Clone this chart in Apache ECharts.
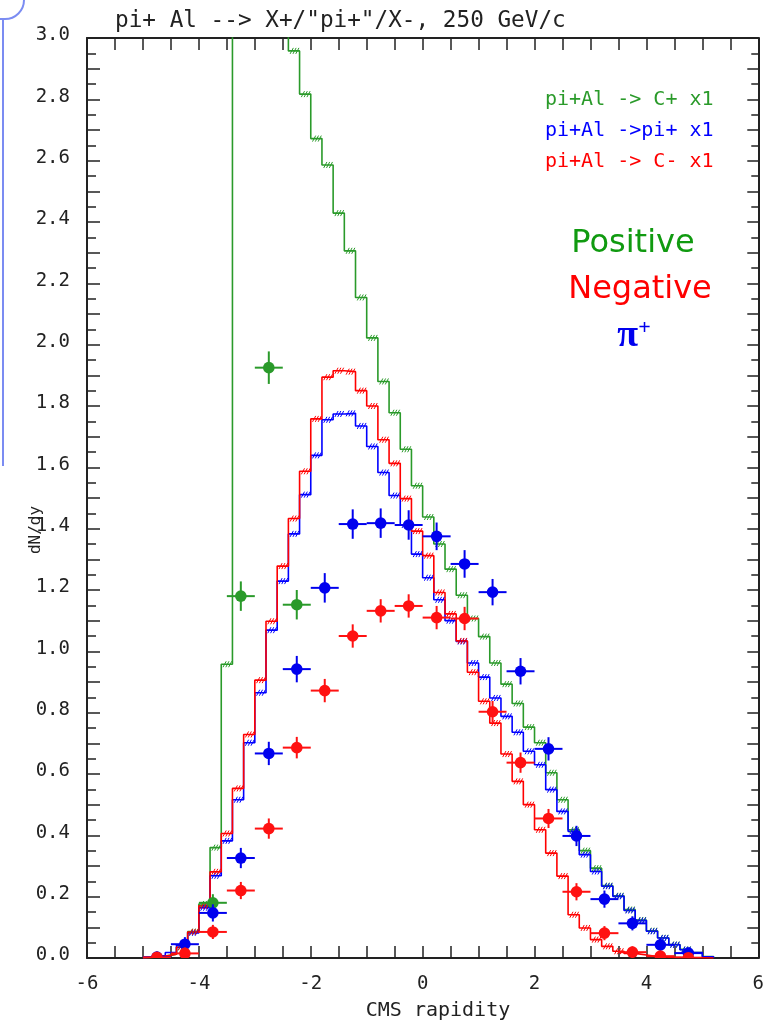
<!DOCTYPE html>
<html><head><meta charset="utf-8">
<script src="https://cdn.jsdelivr.net/npm/echarts@6/dist/echarts.min.js"></script>
<style>html,body{margin:0;padding:0;background:#fff}#c{width:767px;height:1024px}</style>
</head><body><div id="c"></div>
<script>
// ---- data ----
const binEdges = [-5.0,-4.8,-4.6,-4.4,-4.2,-4.0,-3.8,-3.6,-3.4,-3.2,-3.0,-2.8,-2.6,-2.4,-2.2,-2.0,-1.8,-1.6,-1.4,-1.2,-1.0,-0.8,-0.6,-0.4,-0.2,0.0,0.2,0.4,0.6,0.8,1.0,1.2,1.4,1.6,1.8,2.0,2.2,2.4,2.6,2.8,3.0,3.2,3.4,3.6,3.8,4.0,4.2,4.4,4.6,4.8,5.0,5.2];
const greenHist = [0.003,0.006,0.012,0.035,0.086,0.176,0.360,0.958,4.8,4.4,3.9,3.5,3.15,2.958,2.817,2.672,2.586,2.429,2.306,2.154,2.022,1.880,1.778,1.659,1.540,1.438,1.350,1.268,1.183,1.107,1.048,0.962,0.893,0.830,0.753,0.702,0.604,0.516,0.418,0.350,0.293,0.236,0.203,0.158,0.124,0.089,0.066,0.044,0.028,0.018,0.005];
const blueHist = [0.004,0.008,0.018,0.042,0.082,0.164,0.268,0.382,0.516,0.702,0.865,1.069,1.229,1.383,1.511,1.639,1.755,1.774,1.776,1.735,1.668,1.583,1.508,1.412,1.317,1.240,1.168,1.100,1.032,0.962,0.916,0.848,0.788,0.736,0.674,0.630,0.549,0.478,0.413,0.337,0.282,0.234,0.201,0.155,0.122,0.087,0.065,0.043,0.027,0.018,0.004];
const redHist = [0.003,0.006,0.012,0.035,0.085,0.170,0.281,0.406,0.553,0.729,0.906,1.098,1.278,1.433,1.587,1.758,1.894,1.915,1.912,1.850,1.800,1.690,1.613,1.498,1.392,1.312,1.192,1.122,1.034,0.932,0.837,0.766,0.665,0.576,0.500,0.418,0.342,0.267,0.141,0.098,0.060,0.038,0.022,0.015,0.010,0.005,0.003,0.002,0.001,0.001,0.000];

const pointX = [-4.75,-4.25,-3.75,-3.25,-2.75,-2.25,-1.75,-1.25,-0.75,-0.25,0.25,0.75,1.25,1.75,2.25,2.75,3.25,3.75,4.25,4.75];
const bluePts = [0.003,0.045,0.147,0.326,0.667,0.942,1.207,1.415,1.418,1.412,1.375,1.285,1.193,0.935,0.682,0.398,0.192,0.113,0.043,0.016];
const blueErr = [0.005,0.010,0.015,0.020,0.025,0.030,0.035,0.035,0.035,0.035,0.032,0.032,0.030,0.030,0.025,0.020,0.015,0.010,0.008,0.005];
const redPts = [0.002,0.015,0.085,0.220,0.422,0.686,0.872,1.050,1.132,1.148,1.110,1.107,0.803,0.637,0.455,0.216,0.081,0.019,0.006,0.001];
const redErr = [0.003,0.006,0.010,0.015,0.020,0.022,0.025,0.025,0.025,0.025,0.025,0.025,0.022,0.020,0.018,0.015,0.010,0.006,0.004,0.002];
const greenPtX = [-3.75,-3.25,-2.75,-2.25];
const greenPts = [0.180,1.180,1.925,1.152];
const greenErr = [0.015,0.035,0.040,0.035];

const xTickLabels = ['-6','-4','-2','0','2','4','6'];
const yTickLabels = ['0.0','0.2','0.4','0.6','0.8','1.0','1.2','1.4','1.6','1.8','2.0','2.2','2.4','2.6','2.8','3.0'];
const titleText = 'pi+ Al --> X+/"pi+"/X-, 250 GeV/c';
const legendLines = ['pi+Al -> C+ x1','pi+Al ->pi+ x1','pi+Al -> C- x1'];
const xAxisName = 'CMS rapidity';
const yAxisName = 'dN/dy';

// ---- styles ----
const GREEN = '#2a9a2a', BLUE = '#0000ff', RED = '#ff0000', AX = '#222222';
const MONO = '"DejaVu Sans Mono", monospace';

function histData(vals){
  const d = [[binEdges[0], 0]];
  for (let i = 0; i < vals.length; i++) d.push([binEdges[i], vals[i]]);
  d.push([binEdges[vals.length], 0]);
  return d;
}
function hatchData(vals){ return vals.map((v,i)=>[binEdges[i], binEdges[i+1], v]); }
function ptsData(xs, ys, es){ return xs.map((x,i)=>[x, ys[i], es[i]]); }
function pointRenderer(color){
  return function(params, api){
    const x = api.value(0), y = api.value(1), e = api.value(2);
    const c = api.coord([x, y]);
    const l = api.coord([x-0.25, y]), r = api.coord([x+0.25, y]);
    const t = api.coord([x, y+e]), b = api.coord([x, y-e]);
    return {type:'group', children:[
      {type:'line', shape:{x1:l[0],y1:l[1],x2:r[0],y2:r[1]}, style:{stroke:color, lineWidth:2}},
      {type:'line', shape:{x1:t[0],y1:t[1]-4,x2:b[0],y2:b[1]+4}, style:{stroke:color, lineWidth:2}},
      {type:'circle', shape:{cx:c[0],cy:c[1],r:5.8}, style:{fill:color}}
    ]};
  };
}
function hatchRenderer(color){
  return function(params, api){
    const v = api.value(2);
    if (v <= 0.02 || v > 3) return null;
    const a = api.coord([api.value(0), v]), b = api.coord([api.value(1), v]);
    const w = b[0] - a[0];
    const kids = [];
    for (const f of [0.3, 0.55, 0.8]) {
      const x = a[0] + w*f;
      kids.push({type:'line', shape:{x1:x-1.6, y1:a[1]+3, x2:x+1.6, y2:a[1]-3}, style:{stroke:color, lineWidth:1}});
    }
    return {type:'group', children:kids};
  };
}
function histSeries(vals, color){
  return {type:'line', step:'end', data:histData(vals), showSymbol:false, symbol:'none',
    lineStyle:{color:color, width:1.6}, clip:true, animation:false, silent:true, z:2};
}
function hatchSeries(vals, color){
  return {type:'custom', coordinateSystem:'cartesian2d', data:hatchData(vals),
    renderItem:hatchRenderer(color), clip:true, animation:false, silent:true, z:3};
}
function ptsSeries(xs, ys, es, color){
  return {type:'custom', coordinateSystem:'cartesian2d', data:ptsData(xs,ys,es),
    renderItem:pointRenderer(color), clip:true, animation:false, silent:true, z:5};
}

const tickStyle = {color:AX, width:1.5};
const chart = echarts.init(document.getElementById('c'), null, {renderer:'canvas'});
chart.setOption({
  backgroundColor:'#ffffff',
  animation:false,
  grid:{left:87, right:1, top:38, bottom:66},
  xAxis:[
    {type:'value', min:-6, max:6, interval:2, position:'bottom',
     axisLine:{show:true, onZero:false, lineStyle:{color:AX, width:2}},
     axisTick:{show:true, inside:true, length:12, lineStyle:tickStyle},
     minorTick:{show:true, splitNumber:4, length:12, lineStyle:tickStyle},
     axisLabel:{margin:17, color:AX, fontFamily:MONO, fontSize:19,
       formatter:v=>xTickLabels[Math.round((v+6)/2)]},
     splitLine:{show:false}, minorSplitLine:{show:false}},
    {type:'value', min:-6, max:6, interval:2, position:'top',
     axisLine:{show:true, onZero:false, lineStyle:{color:AX, width:2}},
     axisTick:{show:true, inside:true, length:12, lineStyle:tickStyle},
     minorTick:{show:true, splitNumber:4, length:12, lineStyle:tickStyle},
     axisLabel:{show:false}, splitLine:{show:false}}
  ],
  yAxis:[
    {type:'value', min:0, max:3, interval:0.2, position:'left',
     axisLine:{show:true, onZero:false, lineStyle:{color:AX, width:2}},
     axisTick:{show:true, inside:true, length:13, lineStyle:tickStyle},
     minorTick:{show:true, splitNumber:4, length:9, lineStyle:tickStyle},
     axisLabel:{margin:17, color:AX, fontFamily:MONO, fontSize:19, verticalAlign:'bottom', lineHeight:5,
       formatter:v=>yTickLabels[Math.round(v/0.2)]},
     splitLine:{show:false}},
    {type:'value', min:0, max:3, interval:0.1, position:'left',
     axisLine:{show:false, onZero:false}, axisTick:{show:true, inside:true, length:13, lineStyle:tickStyle},
     axisLabel:{show:false}, splitLine:{show:false}},
    {type:'value', min:0, max:3, interval:0.1, position:'right',
     axisLine:{show:true, onZero:false, lineStyle:{color:AX, width:2}},
     axisTick:{show:true, inside:true, length:11, lineStyle:tickStyle},
     minorTick:{show:true, splitNumber:2, length:7, lineStyle:tickStyle},
     axisLabel:{show:false}, splitLine:{show:false}}
  ],
  series:[
    histSeries(greenHist, GREEN),
    histSeries(blueHist, BLUE),
    histSeries(redHist, RED),
    hatchSeries(greenHist, GREEN),
    hatchSeries(blueHist, BLUE),
    hatchSeries(redHist, RED),
    ptsSeries(greenPtX, greenPts, greenErr, '#2a9a2a'),
    ptsSeries(pointX, bluePts, blueErr, '#0000ee'),
    ptsSeries(pointX, redPts, redErr, '#ff1111')
  ],
  graphic:[
    {type:'text', x:115, y:21, style:{text:titleText, font:'22.7px '+MONO, fill:AX, textAlign:'left', textVerticalAlign:'middle'}},
    {type:'text', x:545, y:100, style:{text:legendLines[0], font:'20px '+MONO, fill:GREEN, textAlign:'left', textVerticalAlign:'middle'}},
    {type:'text', x:545, y:131, style:{text:legendLines[1], font:'20px '+MONO, fill:BLUE, textAlign:'left', textVerticalAlign:'middle'}},
    {type:'text', x:545, y:162, style:{text:legendLines[2], font:'20px '+MONO, fill:RED, textAlign:'left', textVerticalAlign:'middle'}},
    {type:'text', x:633, y:244, style:{text:'Positive', font:'32px "DejaVu Sans", sans-serif', fill:'#109a10', textAlign:'center', textVerticalAlign:'middle'}},
    {type:'text', x:640, y:290, style:{text:'Negative', font:'32px "DejaVu Sans", sans-serif', fill:'#ff0000', textAlign:'center', textVerticalAlign:'middle'}},
    {type:'text', x:634, y:336, style:{text:'{p|π}{s|+}', fill:'#0000ee', textAlign:'center', textVerticalAlign:'middle',
      rich:{p:{font:'bold 38px "Liberation Serif", serif', fill:'#0000ee', lineHeight:38},
            s:{font:'bold 22px "Liberation Serif", serif', fill:'#0000ee', verticalAlign:'top', lineHeight:22}}}},
    {type:'text', x:438, y:1011, style:{text:xAxisName, font:'20px '+MONO, fill:AX, textAlign:'center', textVerticalAlign:'middle'}},
    {type:'text', x:36, y:530, rotation:Math.PI/2, style:{text:yAxisName, font:'16px '+MONO, fill:AX, textAlign:'center', textVerticalAlign:'middle'}},
    {type:'line', shape:{x1:3, y1:19, x2:3, y2:466}, style:{stroke:'#7b8cf2', lineWidth:2}},
    {type:'line', shape:{x1:0, y1:19, x2:5, y2:19}, style:{stroke:'#7b8cf2', lineWidth:2}},
    {type:'arc', shape:{cx:5, cy:0, r:19, startAngle:0, endAngle:Math.PI/2, clockwise:true}, style:{stroke:'#7b8cf2', lineWidth:2, fill:null}}
  ]
});
</script>
</body></html>
